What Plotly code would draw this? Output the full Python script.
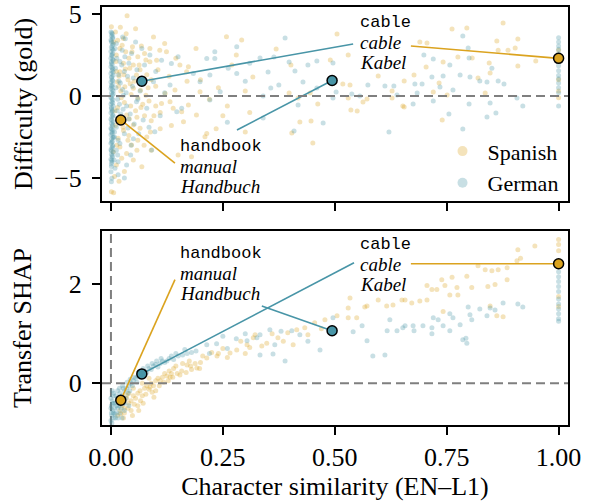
import plotly.graph_objects as go

# ---------------- data ----------------
# background word clouds: (character similarity, value)
es_top_pts = [
    (0.001, 4.23), (0.036, 4.90), (0.028, 3.51), (0.020, 2.90), (0.048, 3.00), (0.109, 2.80), (0.124, 2.70),
    (0.154, 1.89), (0.173, 1.79), (0.169, 1.48), (0.020, 1.48), (0.042, 1.69), (0.057, 1.28), (0.014, 0.87),
    (0.031, 0.57), (0.050, 0.47), (0.132, -0.35), (0.139, -0.75), (0.158, -0.96), (0.173, -0.55), (0.162, -1.57),
    (0.191, -1.16), (0.035, -1.16), (0.050, -1.77), (0.065, -1.97), (0.016, -2.58), (0.046, -2.99), (0.069, -4.31),
    (0.005, -3.40), (0.024, -3.80), (0.001, -5.83), (0.006, -5.90), (0.113, -0.45), (0.087, 2.09), (0.102, 2.19),
    (0.258, 3.62), (0.292, 3.41), (0.214, -2.28), (0.210, -2.48), (0.143, 0.37), (0.199, 0.26), (0.121, 0.16),
    (0.010, 3.90), (0.015, 3.40), (0.025, 3.10), (0.033, 2.70), (0.012, 2.50), (0.040, 2.30), (0.060, 2.40),
    (0.075, 2.60), (0.028, 2.00), (0.050, 1.90), (0.065, 1.60), (0.080, 1.30), (0.090, 1.00), (0.018, 1.20),
    (0.038, 1.00), (0.070, 0.80), (0.100, 0.60), (0.022, 0.30), (0.045, 0.10), (0.060, -0.10), (0.085, -0.30),
    (0.100, -0.60), (0.030, -0.40), (0.015, -0.70), (0.055, -0.90), (0.075, -1.20), (0.090, -1.50), (0.110, -1.00),
    (0.010, -1.80), (0.028, -2.10), (0.040, -2.40), (0.060, -2.70), (0.080, -2.50), (0.020, -3.10), (0.035, -3.50),
    (0.050, -3.90), (0.012, -4.20), (0.030, -4.60), (0.090, -3.30), (0.110, -2.00), (0.130, 1.20), (0.145, 2.30),
    (0.120, 3.20), (0.095, 3.60), (0.055, 4.10), (0.008, -4.90), (0.018, -5.20), (0.135, -1.80), (0.150, -3.60),
    (0.180, -3.70), (0.170, 0.90), (0.200, 1.00), (0.220, -0.20), (0.190, 2.90), (0.043, 0.75), (0.066, 0.35),
    (0.025, -1.45), (0.058, -1.30), (0.078, 0.05), (0.032, 1.65), (0.068, 3.05), (0.088, -2.20),
    (0.006, 3.30), (0.011, 2.10), (0.017, 0.60), (0.023, -0.10), (0.009, -0.90), (0.027, -1.90), (0.013, -3.00),
    (0.038, -2.70), (0.044, -0.60), (0.052, 0.90), (0.063, 1.90), (0.071, -0.50), (0.083, 0.50), (0.096, -1.20),
    (0.105, 1.60), (0.021, 4.20), (0.034, 3.80), (0.047, 2.70), (0.058, -3.30), (0.074, -3.00), (0.087, 2.90),
    (0.012, 1.50), (0.029, 1.30), (0.041, -1.40), (0.067, -0.70), (0.078, 2.20),
    (0.240, 0.50), (0.260, -0.60), (0.270, 1.90), (0.300, 0.30), (0.310, -1.00), (0.280, 2.50), (0.250, -1.20),
    (0.235, -2.00), (0.300, -2.20),
    (0.505, 3.78), (0.369, 2.87), (0.402, 1.89), (0.490, 2.20), (0.530, 2.50), (0.597, 1.22), (0.655, 0.91),
    (0.317, 1.16), (0.398, 0.18), (0.418, -0.12), (0.445, 0.18), (0.462, -0.49), (0.422, -1.59), (0.447, -1.52),
    (0.404, -2.26), (0.451, -2.87), (0.518, 0.73), (0.534, 0.67), (0.536, -0.85), (0.550, -0.91), (0.563, -0.37),
    (0.572, -0.18), (0.652, -0.61), (0.530, -0.12), (0.628, 0.30), (0.628, -0.12),
    (0.762, 4.09), (0.795, 4.15), (0.876, 4.45), (0.690, 3.29), (0.706, 3.23), (0.862, 3.35), (0.909, 3.48),
    (0.903, 2.93), (0.887, 2.80), (0.865, 2.80), (0.775, 2.38), (0.807, 2.32), (0.742, 2.07), (0.704, 1.77),
    (0.845, 2.01), (0.909, 1.83), (0.949, 2.13), (0.847, 1.40), (0.677, 1.28), (0.733, 0.79), (0.720, 0.24),
    (0.820, 1.10), (0.836, 0.18), (0.655, -0.67), (0.740, -1.46), (0.751, 0.06),
    (1.000, 0.30), (1.000, 1.00), (1.000, 2.80), (1.000, -0.10),
]

de_top_pts = [
    (0.000, 3.90), (0.003, 3.78), (0.001, 3.66), (0.004, 3.52), (0.000, 3.41), (0.002, 3.27), (0.005, 3.16),
    (0.001, 2.98), (0.003, 2.87), (0.000, 2.71), (0.004, 2.58), (0.002, 2.46), (0.000, 2.31), (0.005, 2.18),
    (0.001, 2.07), (0.003, 1.92), (0.000, 1.79), (0.004, 1.63), (0.002, 1.52), (0.000, 1.38), (0.005, 1.27),
    (0.001, 1.11), (0.003, 0.98), (0.000, 0.86), (0.004, 0.71), (0.002, 0.58), (0.000, 0.46), (0.005, 0.31),
    (0.001, 0.18), (0.003, 0.06), (0.000, -0.09), (0.004, -0.22), (0.002, -0.36), (0.000, -0.48), (0.005, -0.62),
    (0.001, -0.77), (0.003, -0.88), (0.000, -1.02), (0.004, -1.16), (0.002, -1.28), (0.000, -1.42), (0.005, -1.56),
    (0.001, -1.68), (0.003, -1.82), (0.000, -1.96), (0.004, -2.08), (0.002, -2.21), (0.000, -2.36), (0.005, -2.49),
    (0.001, -2.62), (0.003, -2.76), (0.000, -2.88), (0.004, -3.02), (0.002, -3.16), (0.000, -3.28), (0.005, -3.42),
    (0.001, -3.56), (0.003, -3.71), (0.000, -3.86), (0.002, -4.02), (0.001, -4.30), (0.000, -4.62), (0.002, -5.02),
    (0.001, -5.22),
    (0.002, 3.84), (0.004, 3.60), (0.001, 3.34), (0.003, 3.08), (0.005, 2.79), (0.002, 2.52), (0.004, 2.25),
    (0.001, 1.99), (0.003, 1.72), (0.005, 1.45), (0.002, 1.18), (0.004, 0.92), (0.001, 0.65), (0.003, 0.38),
    (0.005, 0.12), (0.002, -0.15), (0.004, -0.42), (0.001, -0.69), (0.003, -0.95), (0.005, -1.22), (0.002, -1.49),
    (0.004, -1.75), (0.001, -2.02), (0.003, -2.28), (0.005, -2.55), (0.002, -2.82), (0.004, -3.09), (0.001, -3.35),
    (0.003, -3.62), (0.002, -3.92), (0.001, -4.15),
    (0.069, 2.90), (0.046, 2.60), (0.087, 2.50), (0.113, 2.19), (0.135, 1.99), (0.150, 2.39), (0.214, 2.29),
    (0.221, 1.28), (0.184, 1.38), (0.232, 2.70), (0.232, 2.29), (0.262, 1.69), (0.281, 1.38), (0.281, 3.00),
    (0.095, 0.87), (0.132, 0.67), (0.158, -0.75), (0.147, -0.96), (0.057, -0.35), (0.080, -0.75), (0.098, -2.17),
    (0.091, -3.29), (0.009, -4.41), (0.035, -4.20), (0.072, -1.46), (0.199, 0.87), (0.221, -0.24), (0.244, 0.26),
    (0.012, 3.20), (0.020, 2.10), (0.030, 1.50), (0.018, 0.90), (0.026, 0.40), (0.015, -0.20), (0.035, -0.60),
    (0.022, -1.10), (0.040, -1.40), (0.012, -1.90), (0.030, -2.30), (0.050, -2.60), (0.020, -2.90), (0.015, -3.60),
    (0.045, -3.00), (0.060, -0.20), (0.050, 1.10), (0.065, 0.30), (0.040, 2.00), (0.025, 2.80), (0.055, 3.30),
    (0.075, 1.90), (0.085, -1.90), (0.110, -1.20), (0.120, 0.20), (0.100, 1.50), (0.016, -4.80), (0.030, -5.00),
    (0.010, 1.70), (0.014, -0.90), (0.028, 0.05), (0.038, -1.95), (0.008, -2.50), (0.032, 3.50),
    (0.009, 2.90), (0.013, 2.30), (0.017, 1.30), (0.011, 0.50), (0.019, -0.50), (0.023, -1.60), (0.008, -2.20),
    (0.016, -2.70), (0.012, -3.30), (0.021, 0.80), (0.027, -0.80), (0.034, 0.20), (0.037, 1.20), (0.043, -1.10),
    (0.048, 0.60), (0.052, -1.70), (0.058, 1.60), (0.062, -2.30), (0.026, 3.60), (0.044, -3.60), (0.016, -4.00),
    (0.031, 2.40), (0.007, -3.90), (0.024, 1.90),
    (0.260, -1.60), (0.300, 0.90), (0.310, 2.00),
    (0.389, 3.54), (0.364, 2.38), (0.398, 2.07), (0.333, 2.32), (0.351, 1.46), (0.411, 1.52), (0.440, 1.89),
    (0.460, 2.13), (0.496, 2.01), (0.375, 0.67), (0.357, 0.49), (0.429, 0.85), (0.460, 0.49), (0.503, 0.24),
    (0.538, 0.12), (0.556, 0.00), (0.574, 0.67), (0.612, 0.61), (0.632, 0.61), (0.639, 0.06), (0.340, 0.00),
    (0.340, -1.34), (0.474, -1.65), (0.409, -2.13), (0.621, -2.20), (0.496, -0.12), (0.418, -0.55),
    (0.786, 3.66), (0.798, 2.93), (0.699, 2.50), (0.720, 2.26), (0.800, 2.32), (0.757, 1.89), (0.851, 1.70),
    (0.717, 1.16), (0.742, 1.22), (0.780, 1.28), (0.802, 1.16), (0.824, 0.91), (0.840, 0.85), (0.865, 0.91),
    (0.878, 0.73), (0.679, 0.73), (0.695, 0.73), (0.735, 0.55), (0.764, 0.37), (0.675, -0.49), (0.720, -0.30),
    (0.800, -0.49), (0.847, -0.43), (0.920, -0.61), (0.755, -1.10), (0.840, -1.28), (0.860, -1.04), (0.786, -2.01),
    (0.907, -0.12), (0.684, 0.18),
    (1.000, 3.55), (1.000, 3.30), (1.000, 3.05), (1.000, 2.85), (1.000, 2.60), (1.000, 2.10), (1.000, 1.85),
    (1.000, 1.55), (1.000, 1.25), (1.000, 1.05), (1.000, 0.80), (1.000, 0.50), (1.000, 0.20), (1.000, -0.60),
]

es_bot_pts = [
    (0.020, -0.55), (0.025, -0.45), (0.030, -0.50), (0.035, -0.30), (0.040, -0.40), (0.045, -0.35), (0.050, -0.25),
    (0.055, -0.30), (0.060, -0.20), (0.065, -0.15), (0.070, -0.25), (0.075, -0.10), (0.080, -0.05), (0.085, -0.12),
    (0.090, 0.00), (0.095, -0.05), (0.100, 0.05), (0.105, 0.10), (0.110, 0.05), (0.115, 0.12), (0.120, 0.20),
    (0.125, 0.15), (0.130, 0.25), (0.135, 0.20), (0.140, 0.30), (0.030, -0.60), (0.045, -0.55), (0.060, -0.45),
    (0.050, -0.10), (0.070, 0.00), (0.085, 0.10), (0.100, -0.15), (0.040, -0.20), (0.015, -0.65), (0.028, -0.70),
    (0.035, -0.24), (0.087, -0.08), (0.132, 0.12), (0.154, 0.17), (0.170, 0.37), (0.192, 0.31),
    (0.022, -0.62), (0.038, -0.50), (0.052, -0.42), (0.066, -0.35), (0.078, -0.22), (0.092, -0.18), (0.108, -0.05),
    (0.118, 0.02), (0.128, 0.05), (0.138, 0.12), (0.148, 0.20), (0.158, 0.25), (0.168, 0.22), (0.178, 0.35),
    (0.188, 0.40), (0.198, 0.30), (0.048, -0.65), (0.062, -0.55), (0.072, -0.40), (0.096, -0.28),
    (0.214, 0.51), (0.237, 0.55), (0.240, 0.60), (0.266, 0.61), (0.281, 0.67), (0.304, 0.78), (0.318, 0.92),
    (0.322, 0.98), (0.145, 0.35), (0.160, 0.40), (0.175, 0.45), (0.180, 0.28), (0.200, 0.42), (0.205, 0.55),
    (0.225, 0.62), (0.250, 0.70), (0.260, 0.52), (0.290, 0.85), (0.300, 0.60), (0.310, 0.72),
    (0.348, 0.81), (0.373, 0.92), (0.395, 1.02), (0.415, 1.08), (0.433, 1.12), (0.455, 1.22), (0.478, 1.28),
    (0.505, 1.36), (0.530, 1.52), (0.530, 1.32), (0.549, 1.32), (0.567, 1.54), (0.572, 1.56), (0.616, 1.56),
    (0.630, 1.58), (0.657, 1.68), (0.407, 0.78), (0.337, 0.75), (0.534, 1.72), (0.597, 1.68), (0.360, 1.00),
    (0.385, 0.85), (0.440, 0.98), (0.470, 1.10),
    (0.947, 2.77), (0.909, 2.69), (0.907, 2.47), (0.915, 2.52), (0.885, 2.33), (0.865, 2.29), (0.851, 2.27),
    (0.836, 2.29), (0.820, 2.37), (0.795, 2.16), (0.762, 2.14), (0.739, 2.09), (0.746, 1.97), (0.728, 1.89),
    (0.717, 1.89), (0.706, 1.97), (0.773, 1.93), (0.806, 1.93), (0.842, 1.95), (0.858, 1.99), (0.885, 2.09),
    (0.757, 1.78), (0.775, 1.78), (0.650, 1.68), (0.672, 1.62), (0.690, 1.66), (0.706, 1.68), (0.742, 1.45),
    (0.847, 1.56), (0.862, 1.36), (0.876, 1.34),
    (1.000, 2.90), (1.000, 2.67), (1.000, 2.80), (1.000, 1.55), (1.000, 1.75),
]

de_bot_pts = [
    (0.000, -0.75), (0.002, -0.65), (0.004, -0.55), (0.001, -0.45), (0.003, -0.35), (0.005, -0.60), (0.006, -0.70),
    (0.008, -0.50), (0.010, -0.40), (0.012, -0.60), (0.014, -0.30), (0.015, -0.50), (0.018, -0.45), (0.020, -0.20),
    (0.022, -0.35), (0.025, -0.25), (0.028, -0.40), (0.030, -0.15), (0.033, -0.30), (0.035, -0.10), (0.038, -0.20),
    (0.040, -0.05), (0.042, -0.15), (0.045, 0.00), (0.048, -0.05), (0.050, 0.05), (0.055, 0.10), (0.058, 0.02),
    (0.060, 0.15), (0.065, 0.12), (0.070, 0.20), (0.075, 0.25), (0.080, 0.22), (0.085, 0.30), (0.090, 0.28),
    (0.095, 0.35), (0.100, 0.38), (0.105, 0.33), (0.110, 0.40), (0.115, 0.45), (0.120, 0.42), (0.125, 0.45),
    (0.130, 0.50), (0.140, 0.48), (0.150, 0.55), (0.160, 0.57), (0.170, 0.60), (0.180, 0.62), (0.190, 0.65),
    (0.010, -0.70), (0.020, -0.60), (0.005, -0.25), (0.015, -0.15), (0.000, -0.50), (0.000, -0.30), (0.030, -0.55),
    (0.040, -0.45), (0.025, -0.70), (0.007, -0.40), (0.018, -0.30), (0.027, -0.10), (0.003, -0.15),
    (0.001, -0.60), (0.004, -0.40), (0.006, -0.20), (0.009, -0.62), (0.011, -0.25), (0.013, -0.45), (0.016, -0.70),
    (0.019, -0.10), (0.023, -0.50), (0.026, -0.05), (0.031, -0.40), (0.036, 0.02), (0.043, 0.08), (0.052, 0.12),
    (0.062, 0.22), (0.072, 0.30), (0.082, 0.35), (0.092, 0.40), (0.102, 0.45), (0.112, 0.50), (0.135, 0.55),
    (0.145, 0.60), (0.165, 0.68), (0.002, -0.80),
    (0.214, 0.78), (0.236, 0.80), (0.260, 0.70), (0.304, 0.86), (0.326, 0.92), (0.280, 0.90), (0.250, 0.95),
    (0.300, 1.00), (0.220, 0.60),
    (0.333, 0.98), (0.366, 0.78), (0.355, 1.08), (0.333, 0.57), (0.362, 0.59), (0.389, 0.45), (0.467, 0.67),
    (0.496, 1.32), (0.541, 1.04), (0.561, 1.16), (0.572, 0.86), (0.585, 0.55), (0.612, 0.57), (0.617, 1.06),
    (0.623, 1.28), (0.639, 1.06), (0.657, 1.16), (0.422, 0.98), (0.404, 1.06), (0.440, 0.85), (0.380, 1.05),
    (0.652, 1.12), (0.675, 1.16), (0.677, 1.06), (0.697, 1.16), (0.717, 1.12), (0.717, 1.00), (0.720, 1.32),
    (0.731, 1.28), (0.742, 1.16), (0.757, 1.06), (0.764, 1.32), (0.780, 1.18), (0.798, 1.54), (0.802, 1.38),
    (0.806, 1.28), (0.824, 1.50), (0.840, 1.36), (0.847, 1.52), (0.858, 1.48), (0.876, 1.62), (0.909, 1.60),
    (0.920, 1.54), (0.786, 0.88), (0.795, 0.81), (0.793, 0.91), (0.757, 1.40),
    (1.000, 2.35), (1.000, 2.25), (1.000, 2.15), (1.000, 2.05), (1.000, 1.95), (1.000, 1.85), (1.000, 1.70),
    (1.000, 1.60), (1.000, 1.50), (1.000, 1.40), (1.000, 1.30), (1.000, 1.25),
]

# highlighted word pairs
en_words = ["handbook", "cable"]
es_words = ["manual", "cable"]
de_words = ["Handbuch", "Kabel"]
es_sim = [0.022, 1.000]
de_sim = [0.494, 0.069]
es_diff = [-1.46, 2.30]
de_diff = [0.95, 0.90]
es_shap = [-0.34, 2.41]
de_shap = [1.06, 0.19]

x_ticks = [0, 0.25, 0.5, 0.75, 1.0]
x_ticktext = ["0.00", "0.25", "0.50", "0.75", "1.00"]
top_ticks = [-5, 0, 5]
top_ticktext = ["\u22125", "0", "5"]
bot_ticks = [0, 2]
bot_ticktext = ["0", "2"]

# ---------------- style / layout ----------------
GOLD = "#DBA31F"
TEAL = "#4895A7"
GOLD_A = "rgba(219,163,31,0.30)"
TEAL_A = "rgba(72,149,167,0.30)"
SERIF = "Liberation Serif, Times New Roman, serif"
MONO = "Liberation Mono, Courier New, monospace"

# label block anchors (data coords) per panel: [handbook block, cable block]
top_label_pos = [(0.150, -3.05), (0.552, 4.51)]
bot_label_pos = [(0.150, 2.61), (0.552, 2.79)]
top_line_gap = 1.22
bot_line_gap = 0.40
# connector end points near labels
top_es_conn = [(0.143, -4.09), (0.670, 3.05)]
top_de_conn = [(0.2815, -2.07), (0.541, 3.17)]
bot_es_conn = [(0.143, 2.09), (0.670, 2.41)]
bot_de_conn = [(0.337, 1.56), (0.543, 2.43)]

fig = go.Figure()


def cloud(pts, color, xa, ya):
    fig.add_trace(go.Scatter(
        x=[p[0] for p in pts], y=[p[1] for p in pts], mode="markers",
        marker=dict(size=5, color=color, line=dict(width=0)),
        xaxis=xa, yaxis=ya, showlegend=False, hoverinfo="skip"))


cloud(es_top_pts, GOLD_A, "x", "y")
cloud(de_top_pts, TEAL_A, "x", "y")
cloud(es_bot_pts, GOLD_A, "x2", "y2")
cloud(de_bot_pts, TEAL_A, "x2", "y2")


def connectors(xs, ys, conn, color, xa, ya):
    for i in range(len(xs)):
        fig.add_trace(go.Scatter(
            x=[xs[i], conn[i][0]], y=[ys[i], conn[i][1]], mode="lines",
            line=dict(color=color, width=1.6), xaxis=xa, yaxis=ya,
            showlegend=False, hoverinfo="skip"))


connectors(es_sim, es_diff, top_es_conn, GOLD, "x", "y")
connectors(de_sim, de_diff, top_de_conn, TEAL, "x", "y")
connectors(es_sim, es_shap, bot_es_conn, GOLD, "x2", "y2")
connectors(de_sim, de_shap, bot_de_conn, TEAL, "x2", "y2")


def highlight(xs, ys, color, xa, ya):
    fig.add_trace(go.Scatter(
        x=xs, y=ys, mode="markers",
        marker=dict(size=10, color=color, line=dict(width=1.5, color="black")),
        xaxis=xa, yaxis=ya, showlegend=False, hoverinfo="skip"))


highlight(es_sim, es_diff, GOLD, "x", "y")
highlight(de_sim, de_diff, TEAL, "x", "y")
highlight(es_sim, es_shap, GOLD, "x2", "y2")
highlight(de_sim, de_shap, TEAL, "x2", "y2")

# legend entries
fig.add_trace(go.Scatter(x=[None], y=[None], mode="markers", name="Spanish",
                         marker=dict(size=10, color=GOLD_A)))
fig.add_trace(go.Scatter(x=[None], y=[None], mode="markers", name="German",
                         marker=dict(size=10, color=TEAL_A)))

annotations = []


def labels(positions, gap, xr, yr):
    for i in range(len(en_words)):
        x0, y0 = positions[i]
        rows = [(en_words[i], MONO, 17), ("<i>" + es_words[i] + "</i>", SERIF, 19),
                ("<i>" + de_words[i] + "</i>", SERIF, 19)]
        for k, (txt, fam, sz) in enumerate(rows):
            annotations.append(dict(x=x0, y=y0 - k * gap, xref=xr, yref=yr, text=txt,
                                    showarrow=False, xanchor="left", yanchor="middle",
                                    font=dict(family=fam, size=sz, color="black")))


labels(top_label_pos, top_line_gap, "x", "y")
labels(bot_label_pos, bot_line_gap, "x2", "y2")

dash = dict(color="#7f7f7f", width=2, dash="9px,5px")
shapes = [
    dict(type="line", xref="x domain", yref="y", x0=0, x1=1, y0=0, y1=0, line=dash, layer="above"),
    dict(type="line", xref="x2 domain", yref="y2", x0=0, x1=1, y0=0, y1=0, line=dash, layer="above"),
    dict(type="line", xref="x2", yref="y2 domain", x0=0, x1=0, y0=0, y1=1, line=dash, layer="below"),
]

axis_common = dict(showline=True, linecolor="black", linewidth=2, mirror=True, ticks="outside",
                   ticklen=8, tickwidth=1.5, tickcolor="black", showgrid=False, zeroline=False,
                   automargin=False,
                   tickfont=dict(family=SERIF, size=26, color="black"))
title_font = dict(family=SERIF, size=26, color="black")

fig.update_layout(
    width=592, height=504,
    margin=dict(l=102, r=24, t=7, b=79),
    paper_bgcolor="white", plot_bgcolor="white",
    xaxis=dict(domain=[0, 1], range=[-0.02, 1.021], tickvals=x_ticks, showticklabels=False,
               anchor="y", **axis_common),
    yaxis=dict(domain=[0.5359, 1], range=[-6.4, 5.43], tickvals=top_ticks, ticktext=top_ticktext,
               anchor="x", ticklabelstandoff=5,
               title=dict(text="Difficulty (gold)", standoff=14, font=title_font),
               **axis_common),
    xaxis2=dict(domain=[0, 1], range=[-0.02, 1.021], tickvals=x_ticks, ticktext=x_ticktext,
                anchor="y2", matches="x",
                title=dict(text="Character similarity (EN\u2013L1)", standoff=6, font=title_font),
                **axis_common),
    yaxis2=dict(domain=[0, 0.4641], range=[-0.84, 3.07], tickvals=bot_ticks, ticktext=bot_ticktext,
                anchor="x2", ticklabelstandoff=5,
                title=dict(text="Transfer SHAP", standoff=30, font=title_font),
                **axis_common),
    legend=dict(x=0.72, y=0.705, xanchor="left", yanchor="top", bgcolor="rgba(0,0,0,0)",
                font=dict(family=SERIF, size=22, color="black"), tracegroupgap=0, itemwidth=40),
    annotations=annotations,
    shapes=shapes,
    showlegend=True,
)

fig.write_html("out.html")
